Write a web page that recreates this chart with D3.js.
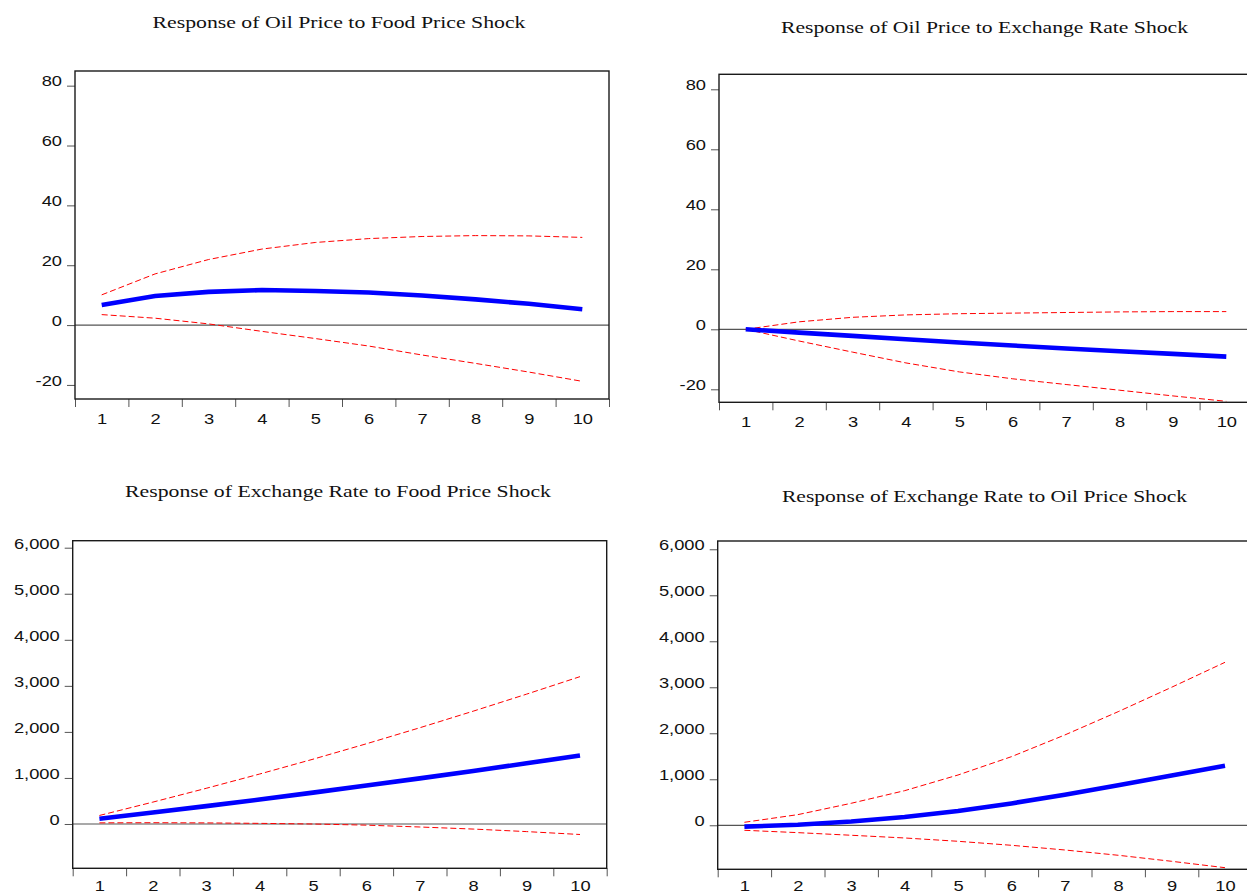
<!DOCTYPE html>
<html>
<head>
<meta charset="utf-8">
<script src="https://cdn.jsdelivr.net/npm/d3@7"></script>
<style>
  body { margin: 0; background: #fff; }
  svg { display: block; }
</style>
</head>
<body>
<div id="chart"></div>
<script>
// impulse responses, 10 periods
var periods = [1, 2, 3, 4, 5, 6, 7, 8, 9, 10];

var titles = [
  "Response of Oil Price to Food Price Shock",
  "Response of Oil Price to Exchange Rate Shock",
  "Response of Exchange Rate to Food Price Shock",
  "Response of Exchange Rate to Oil Price Shock"
];

var oilTicks = [-20, 0, 20, 40, 60, 80];
var rateTicks = [0, 1000, 2000, 3000, 4000, 5000, 6000];

var oilFoodIrf   = [6.7, 9.7, 11.1, 11.7, 11.4, 10.9, 9.9, 8.6, 7.1, 5.3];
var oilFoodUpper = [10.1, 17.1, 21.9, 25.4, 27.6, 28.9, 29.6, 29.9, 29.8, 29.3];
var oilFoodLower = [3.5, 2.3, 0.4, -2.1, -4.5, -7.0, -10.0, -12.8, -15.7, -18.8];

var oilRateIrf   = [0, -1.1, -2.2, -3.3, -4.4, -5.4, -6.4, -7.3, -8.2, -9.1];
var oilRateUpper = [0, 2.5, 4.0, 4.8, 5.2, 5.4, 5.6, 5.8, 5.9, 5.9];
var oilRateLower = [0, -3.9, -7.6, -11.2, -14.2, -16.5, -18.4, -20.3, -22.2, -24.0];

var rateFoodIrf   = [113, 248, 388, 532, 681, 834, 991, 1152, 1318, 1489];
var rateFoodUpper = [185, 475, 775, 1085, 1407, 1742, 2090, 2450, 2820, 3200];
var rateFoodLower = [25, 28, 24, 14, 0, -25, -65, -110, -165, -228];

var rateOilIrf   = [-30, 12, 82, 180, 310, 475, 665, 870, 1080, 1296];
var rateOilUpper = [65, 231, 478, 752, 1093, 1491, 1963, 2470, 3000, 3543];
var rateOilLower = [-109, -160, -217, -276, -348, -435, -537, -652, -783, -922];

var width = 1247, height = 895;
var stretch = 1.22; // labels in the picture are drawn wide

var plain = function(d) { return String(d); };
var comma = d3.format(",");

// frame boxes, y extents and title placement per panel
var panels = [
  {left: 75, top: 71, right: 609, bottom: 399, yMin: -24.7, yMax: 84.9, pad: 14,
   ticks: oilTicks, fmt: plain, irf: oilFoodIrf, upper: oilFoodUpper, lower: oilFoodLower,
   title: titles[0], tx: 339, ty: 28, tw: 373},
  {left: 719, top: 74.3, right: 1253, bottom: 402.3, yMin: -24.33, yMax: 85, pad: 14,
   ticks: oilTicks, fmt: plain, irf: oilRateIrf, upper: oilRateUpper, lower: oilRateLower,
   title: titles[1], tx: 984.5, ty: 33, tw: 407},
  {left: 72.7, top: 540.7, right: 606.7, bottom: 868.3, yMin: -962, yMax: 6152, pad: 12.5,
   ticks: rateTicks, fmt: comma, irf: rateFoodIrf, upper: rateFoodUpper, lower: rateFoodLower,
   title: titles[2], tx: 338, ty: 497, tw: 426},
  {left: 717.7, top: 541, right: 1251.7, bottom: 869.3, yMin: -957, yMax: 6180, pad: 11.5,
   ticks: rateTicks, fmt: comma, irf: rateOilIrf, upper: rateOilUpper, lower: rateOilLower,
   title: titles[3], tx: 984.5, ty: 502, tw: 405}
];

var svg = d3.select("#chart").append("svg")
  .attr("width", width)
  .attr("height", height);

panels.forEach(function(p) {
  var x = d3.scaleLinear().domain([0.5, 10.5]).range([p.left, p.right]);
  var y = d3.scaleLinear().domain([p.yMin, p.yMax]).range([p.bottom, p.top]);

  var g = svg.append("g");

  g.append("text")
    .attr("x", p.tx)
    .attr("y", p.ty)
    .attr("text-anchor", "middle")
    .attr("font-family", "'Liberation Serif', 'Times New Roman', serif")
    .attr("font-size", 17.5)
    .attr("fill", "#111")
    .attr("textLength", p.tw)
    .attr("lengthAdjust", "spacingAndGlyphs")
    .text(p.title);

  // zero line
  g.append("line")
    .attr("x1", p.left).attr("x2", p.right)
    .attr("y1", y(0)).attr("y2", y(0))
    .attr("stroke", "#555")
    .attr("stroke-width", 1.2);

  var line = d3.line()
    .x(function(d, i) { return x(periods[i]); })
    .y(function(d) { return y(d); });

  [p.upper, p.lower].forEach(function(band) {
    g.append("path")
      .datum(band)
      .attr("d", line)
      .attr("fill", "none")
      .attr("stroke", "#ff0000")
      .attr("stroke-width", 1)
      .attr("stroke-dasharray", "6,3");
  });

  g.append("path")
    .datum(p.irf)
    .attr("d", line)
    .attr("fill", "none")
    .attr("stroke", "#0000ff")
    .attr("stroke-width", 4.6);

  // y axis
  var yAxis = g.append("g")
    .attr("transform", "translate(" + p.left + ",0)")
    .call(d3.axisLeft(y).tickValues(p.ticks).tickSize(8).tickFormat(p.fmt));
  yAxis.select(".domain").remove();
  yAxis.selectAll(".tick line").attr("stroke", "#555");
  yAxis.selectAll(".tick text")
    .attr("font-family", "'Liberation Sans', Arial, sans-serif")
    .attr("font-size", 15)
    .attr("fill", "#111")
    .attr("dy", "0.02em")
    .attr("x", -13 / stretch)
    .attr("transform", "scale(" + stretch + ",1)");

  // x axis: marks between periods, labels at periods
  var xMarks = g.append("g")
    .attr("transform", "translate(0," + p.bottom + ")")
    .call(d3.axisBottom(x).tickValues(d3.range(0.5, 11, 1)).tickSize(8).tickFormat(""));
  xMarks.select(".domain").remove();
  xMarks.selectAll(".tick line").attr("stroke", "#555");

  var xLabels = g.append("g")
    .attr("transform", "translate(0," + p.bottom + ")")
    .call(d3.axisBottom(x).tickValues(periods).tickSize(0).tickPadding(p.pad));
  xLabels.select(".domain").remove();
  xLabels.selectAll(".tick text")
    .attr("font-family", "'Liberation Sans', Arial, sans-serif")
    .attr("font-size", 15)
    .attr("fill", "#111")
    .attr("transform", "scale(" + stretch + ",1)");

  // frame
  g.append("rect")
    .attr("x", p.left).attr("y", p.top)
    .attr("width", p.right - p.left)
    .attr("height", p.bottom - p.top)
    .attr("fill", "none")
    .attr("stroke", "#1a1a1a")
    .attr("stroke-width", 1.4);
});
</script>
</body>
</html>
